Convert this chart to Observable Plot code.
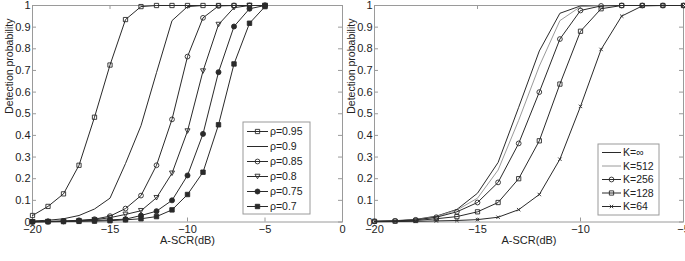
<!DOCTYPE html>
<html><head><meta charset="utf-8">
<script src="https://cdn.jsdelivr.net/npm/d3@7"></script>
<script src="https://cdn.jsdelivr.net/npm/@observablehq/plot@0.6"></script>
<style>
html,body{margin:0;padding:0;background:#fff;}
#wrap{position:relative;width:685px;height:261px;overflow:hidden;font-family:"Liberation Sans",Arial,sans-serif;}
#wrap svg{position:absolute;top:0;}
</style></head><body><div id="wrap"></div>
<script>
// ---------- data ----------
const snr = [-20,-19,-18,-17,-16,-15,-14,-13,-12,-11,-10,-9,-8,-7,-6,-5];

const rhoLabels = ["ρ=0.95","ρ=0.9","ρ=0.85","ρ=0.8","ρ=0.75","ρ=0.7"];
const rho095 = [0.03,0.072,0.13,0.262,0.484,0.725,0.935,0.995,1,1,1,1,1,1,1,1];
const rho090 = [0.005,0.008,0.015,0.03,0.06,0.11,0.27,0.445,0.69,0.93,0.995,1,1,1,1,1];
const rho085 = [0.002,0.003,0.005,0.008,0.013,0.027,0.062,0.122,0.262,0.474,0.764,0.943,0.998,1,1,1];
const rho080 = [0.001,0.002,0.003,0.005,0.01,0.02,0.035,0.052,0.112,0.225,0.42,0.697,0.912,0.99,1,1];
const rho075 = [0.001,0.002,0.003,0.005,0.007,0.01,0.013,0.03,0.05,0.1,0.215,0.407,0.692,0.903,0.985,1];
const rho070 = [0.001,0.001,0.002,0.003,0.004,0.006,0.01,0.015,0.025,0.056,0.127,0.23,0.449,0.73,0.918,0.995];

const kLabels = ["K=∞","K=512","K=256","K=128","K=64"];
const kInf = [0.003,0.006,0.012,0.027,0.058,0.133,0.275,0.53,0.79,0.964,0.998,1,1,1,1,1];
const k512 = [0.003,0.005,0.01,0.025,0.055,0.11,0.24,0.47,0.72,0.93,0.995,1,1,1,1,1];
const k256 = [0.003,0.005,0.01,0.022,0.047,0.09,0.183,0.363,0.6,0.845,0.977,0.998,1,1,1,1];
const k128 = [0.003,0.004,0.007,0.015,0.025,0.047,0.09,0.2,0.375,0.637,0.881,0.985,1,1,1,1];
const k64  = [0.001,0.002,0.003,0.005,0.007,0.011,0.022,0.057,0.127,0.29,0.534,0.797,0.951,0.998,1,1];

const yTicks = [0,0.1,0.2,0.3,0.4,0.5,0.6,0.7,0.8,0.9,1];
const yTickLabels = ["0","0.1","0.2","0.3","0.4","0.5","0.6","0.7","0.8","0.9","1"];
const xTicksLeft = [-20,-15,-10,-5,0];
const xTicksRight = [-20,-15,-10,-5];
const xLabel = "A-SCR(dB)";
const yLabel = "Detection probability";

// ---------- styles ----------
const INK = "#2a2a2a";
const FRAME = "#9a9a9a";
const triangleDown = {draw(ctx, size){ const s = Math.sqrt(size*1.2); const h = s*0.9;
  ctx.moveTo(-s/2,-h/2); ctx.lineTo(s/2,-h/2); ctx.lineTo(0,h/2); ctx.closePath(); }};

const leftSeries = [
  {label: rhoLabels[0], values: rho095, symbol: d3.symbolSquare, fill: "none", r: 2.4},
  {label: rhoLabels[1], values: rho090, symbol: null},
  {label: rhoLabels[2], values: rho085, symbol: d3.symbolCircle, fill: "none", r: 2.4},
  {label: rhoLabels[3], values: rho080, symbol: triangleDown, fill: "none", r: 2.6},
  {label: rhoLabels[4], values: rho075, symbol: d3.symbolCircle, fill: INK, r: 2.5},
  {label: rhoLabels[5], values: rho070, symbol: d3.symbolSquare, fill: INK, r: 2.5}
];
const rightSeries = [
  {label: kLabels[0], values: kInf, symbol: null},
  {label: kLabels[1], values: k512, symbol: null, stroke: "#9a9a9a"},
  {label: kLabels[2], values: k256, symbol: d3.symbolCircle, fill: "none", r: 2.4},
  {label: kLabels[3], values: k128, symbol: d3.symbolSquare, fill: "none", r: 2.4},
  {label: kLabels[4], values: k64, symbol: d3.symbolTimes, fill: "none", r: 1.7}
];

function chart({series, xDomain, xTicks, left, width, marginLeft, marginRight, legend}) {
  const [x0, x1] = xDomain;
  const pxPerUnit = (width - marginLeft - marginRight) / (x1 - x0);
  const tx = 4 / pxPerUnit, ty = 4 / 216.5;
  const marks = [
    Plot.frame({stroke: FRAME}),
    Plot.ruleX(xTicks, {x: d => d, y1: 0, y2: ty, stroke: FRAME}),
    Plot.ruleX(xTicks, {x: d => d, y1: 1 - ty, y2: 1, stroke: FRAME}),
    Plot.ruleY(yTicks, {y: d => d, x1: x0, x2: x0 + tx, stroke: FRAME}),
    Plot.ruleY(yTicks, {y: d => d, x1: x1 - tx, x2: x1, stroke: FRAME}),
    Plot.axisX(xTicks, {tickSize: 0, tickPadding: 3, label: null, fontSize: 11}),
    Plot.axisY(yTicks, {tickSize: 0, tickPadding: 2, label: null, fontSize: 11,
      tickFormat: d => yTickLabels[yTicks.indexOf(d)]}),
    Plot.text([xLabel], {frameAnchor: "bottom", dy: 18, text: d => d, fontSize: 11, lineAnchor: "middle"}),
    Plot.text([yLabel], {frameAnchor: "left", dx: -23, rotate: -90, text: d => d, fontSize: 10.5})
  ];
  for (const s of series) {
    const rows = snr.map((x, i) => ({x, y: s.values[i]}));
    marks.push(Plot.line(rows, {x: "x", y: "y", stroke: s.stroke || INK, strokeWidth: 1}));
    if (s.symbol) marks.push(Plot.dot(rows, {x: "x", y: "y", symbol: s.symbol, r: s.r,
      fill: s.fill, stroke: INK, strokeWidth: 0.9}));
  }
  const svg = Plot.plot({
    width, height: 261, marginLeft, marginRight, marginTop: 5, marginBottom: 39.5,
    x: {domain: xDomain}, y: {domain: [0, 1]},
    style: {fontFamily: '"Liberation Sans", Arial, sans-serif', color: "#222", background: "transparent", overflow: "visible"},
    marks
  });
  svg.style.left = left + "px";
  // legend
  const g = d3.select(svg).append("g").attr("text-anchor", "start");
  g.append("rect").attr("x", legend.x - left).attr("y", legend.y).attr("width", legend.w).attr("height", legend.h)
    .attr("fill", "#fff").attr("stroke", FRAME);
  series.forEach((s, i) => {
    const yy = legend.y + legend.first + i * legend.step;
    const lx = legend.x - left + legend.lineX;
    g.append("line").attr("x1", lx).attr("x2", lx + legend.lineW).attr("y1", yy).attr("y2", yy)
      .attr("stroke", s.stroke || INK).attr("stroke-width", 1);
    if (s.symbol) g.append("path").attr("d", d3.symbol(s.symbol, Math.PI * s.r * s.r)())
      .attr("transform", `translate(${lx + legend.lineW / 2},${yy})`)
      .attr("fill", s.fill).attr("stroke", INK).attr("stroke-width", 0.9);
    g.append("text").attr("x", lx + legend.lineW + 2).attr("y", yy).attr("dy", "0.35em")
      .attr("text-anchor", "start")
      .attr("font-size", legend.fontSize).attr("fill", "#222").text(s.label);
  });
  document.getElementById("wrap").appendChild(svg);
}

chart({series: leftSeries, xDomain: [-20, 0], xTicks: xTicksLeft, left: 0, width: 345,
  marginLeft: 32, marginRight: 3,
  legend: {x: 243, y: 122, w: 67, h: 92, first: 9.5, step: 15, lineX: 4, lineW: 21, fontSize: 10.5}});
chart({series: rightSeries, xDomain: [-20, -5], xTicks: xTicksRight, left: 340, width: 345,
  marginLeft: 34, marginRight: 2,
  legend: {x: 598, y: 144, w: 61, h: 71, first: 8.5, step: 13.5, lineX: 4, lineW: 19, fontSize: 10.5}});
</script></body></html>
